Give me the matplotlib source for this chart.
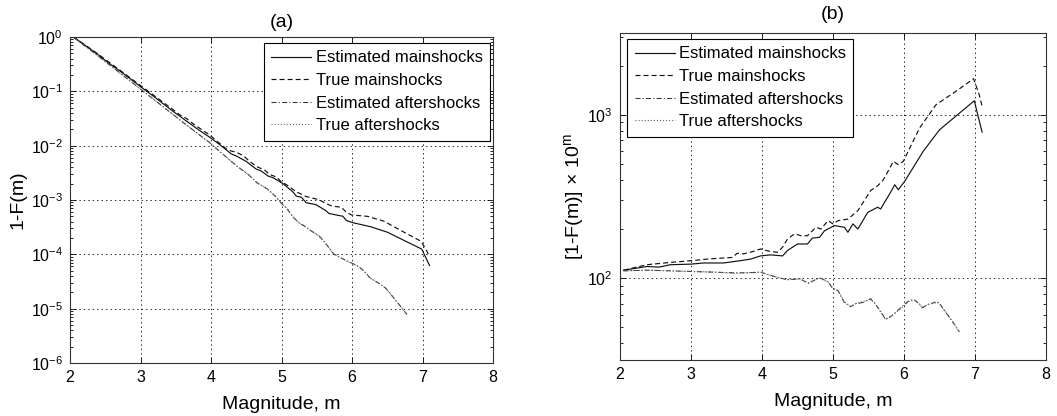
import numpy as np
import matplotlib
matplotlib.use("Agg")
import matplotlib.pyplot as plt
from matplotlib.ticker import LogLocator, NullFormatter, FixedLocator

plt.rcParams['font.family'] = ['Liberation Sans', 'DejaVu Sans']
plt.rcParams['mathtext.fontset'] = 'custom'
plt.rcParams['mathtext.rm'] = 'Liberation Sans'
plt.rcParams['mathtext.it'] = 'Liberation Sans:italic'
plt.rcParams['mathtext.bf'] = 'Liberation Sans:bold'
plt.rcParams['lines.scale_dashes'] = False

# Normalised survival [1-F(m)] x 10^m for each catalogue
est_main_m = [2.05, 2.38, 2.55, 2.71, 3.00, 3.18, 3.46, 3.69, 3.84, 3.98, 4.12, 4.29,
              4.36, 4.50, 4.64, 4.71, 4.81, 4.88, 5.02, 5.16, 5.21, 5.28, 5.35, 5.49,
              5.63, 5.67, 5.81, 5.87, 5.92, 6.01, 6.27, 6.50, 6.99, 7.10]
est_main_val = [112, 118, 117, 121, 122, 124, 124, 128, 131, 137, 139, 137,
                148, 162, 162, 176, 178, 195, 210, 205, 191, 215, 200, 253,
                272, 265, 335, 373, 348, 392, 597, 809, 1218, 783]

true_main_m = [2.05, 2.38, 2.71, 3.00, 3.23, 3.46, 3.58, 3.65, 3.74, 3.88, 3.98, 4.08,
               4.22, 4.29, 4.36, 4.46, 4.55, 4.64, 4.76, 4.83, 4.93, 5.00, 5.07, 5.21,
               5.35, 5.44, 5.53, 5.63, 5.70, 5.75, 5.85, 5.92, 5.99, 6.22, 6.45, 6.73,
               6.98, 7.06, 7.10]
true_main_val = [112, 121, 125, 128, 131, 133, 134, 142, 141, 146, 151, 147,
                 144, 155, 174, 187, 182, 182, 205, 200, 225, 215, 225, 230,
                 259, 298, 344, 368, 395, 430, 519, 495, 519, 830, 1151, 1390,
                 1660, 1324, 1124]

est_after_m = [2.05, 2.38, 2.71, 3.00, 3.32, 3.60, 3.79, 3.98, 4.12, 4.35, 4.54, 4.65,
               4.81, 4.93, 5.00, 5.07, 5.16, 5.25, 5.32, 5.42, 5.53, 5.58, 5.67, 5.74,
               5.83, 5.97, 6.07, 6.14, 6.21, 6.26, 6.33, 6.47, 6.51, 6.60, 6.70, 6.78]
est_after_val = [111, 112, 111, 110, 109, 108, 108, 109, 104, 98, 99, 93,
                 101, 95, 86, 84, 71, 67, 70, 71, 75, 71, 63, 56,
                 59, 67, 73, 74, 70, 66, 69, 72, 69, 61, 53, 47]

true_after_m = [2.05, 2.38, 2.71, 3.00, 3.32, 3.60, 3.79, 3.98, 4.12, 4.35, 4.54, 4.65,
                4.81, 4.93, 5.00, 5.07, 5.16, 5.25, 5.32, 5.42, 5.53, 5.58, 5.67, 5.74,
                5.83, 5.97, 6.07, 6.14, 6.21, 6.26, 6.33, 6.47, 6.51, 6.60, 6.70, 6.78]
true_after_val = [111, 112, 111, 110, 109, 107, 108, 109, 104, 98, 99, 94,
                  100, 95, 87, 84, 72, 67, 70, 72, 74, 71, 62, 56,
                  59, 66, 72, 74, 70, 66, 69, 71, 69, 61, 53, 47]

labels = ['Estimated mainshocks', 'True mainshocks',
          'Estimated aftershocks', 'True aftershocks']
series = [(est_main_m, est_main_val), (true_main_m, true_main_val),
          (est_after_m, est_after_val), (true_after_m, true_after_val)]
styles = ['-', (0, (3.6, 2.2)), (0, (3.6, 1.6, 0.8, 1.6)), (0, (0.8, 1.4))]
colors = ['#111111', '#111111', '#333333', '#666666']
widths = [0.85, 0.85, 0.75, 0.8]

W, H = 1057, 416
fig = plt.figure(figsize=(W / 100, H / 100), dpi=100)
ax_a = fig.add_axes([70 / W, 1 - 363 / H, (493 - 70) / W, (363 - 37) / H])
ax_b = fig.add_axes([620 / W, 1 - 360 / H, (1046 - 620) / W, (360 - 33) / H])

for (m, v), ls, c, lw, lab in zip(series, styles, colors, widths, labels):
    m = np.asarray(m)
    v = np.asarray(v, dtype=float)
    ax_a.plot(m, v / 10.0 ** m, linestyle=ls, color=c, lw=lw, label=lab)
    ax_b.plot(m, v, linestyle=ls, color=c, lw=lw, label=lab)

grid_kw = dict(color='black', linestyle=(0, (1, 2.2)), linewidth=0.6)

for ax in (ax_a, ax_b):
    ax.set_yscale('log')
    ax.set_xlim(2, 8)
    ax.set_xticks(range(2, 9))
    ax.tick_params(which='both', direction='in', top=True, right=True,
                   labelsize=11.5, width=0.6, colors='black', pad=5)
    ax.tick_params(which='major', length=4)
    ax.tick_params(which='minor', length=2.2)
    ax.grid(True, which='major', **grid_kw)
    for s in ax.spines.values():
        s.set_linewidth(0.8)
        s.set_color('#333333')
    ax.set_xlabel('Magnitude, m', fontsize=14, labelpad=8)

ax_a.set_ylim(1e-6, 1)
ax_a.yaxis.set_major_locator(LogLocator(base=10, numticks=10))
ax_a.yaxis.set_minor_locator(LogLocator(base=10, subs=np.arange(2, 10), numticks=10))
ax_a.yaxis.set_minor_formatter(NullFormatter())
ax_a.set_ylabel('1-F(m)', fontsize=14, labelpad=3)
ax_a.set_title('(a)', fontsize=14, pad=7)

ax_b.set_ylim(10 ** 1.5, 10 ** 3.5)
ax_b.yaxis.set_major_locator(FixedLocator([100, 1000]))
ax_b.yaxis.set_minor_locator(LogLocator(base=10, subs=np.arange(2, 10), numticks=10))
ax_b.yaxis.set_minor_formatter(NullFormatter())
ax_b.set_ylabel(r'[1-F(m)]$\,\times\,$10$^{\rm m}$', fontsize=14, labelpad=1)
ax_b.set_title('(b)', fontsize=14, pad=10)

leg_kw = dict(fontsize=12, frameon=True, fancybox=False, framealpha=1,
              edgecolor='black', handlelength=2.4, handletextpad=0.25,
              borderpad=0.45, labelspacing=0.45, borderaxespad=0)
la = ax_a.legend(loc='upper right', bbox_to_anchor=(490 / W, 1 - 43 / H),
                 bbox_transform=fig.transFigure, **leg_kw)
lb = ax_b.legend(loc='upper left', bbox_to_anchor=(627 / W, 1 - 39 / H),
                 bbox_transform=fig.transFigure, **leg_kw)
for lg in (la, lb):
    lg.get_frame().set_linewidth(0.8)

fig.savefig('out.png', dpi=100)
